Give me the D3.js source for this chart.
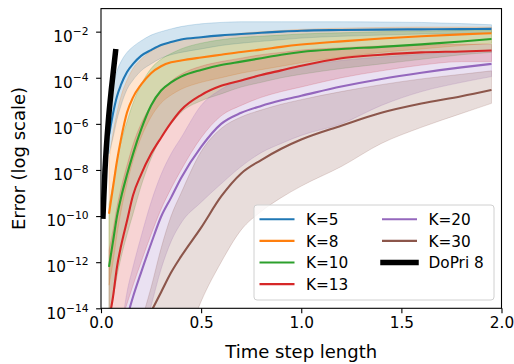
<!DOCTYPE html>
<html>
<head>
<meta charset="utf-8">
<script src="https://cdn.jsdelivr.net/npm/d3@7"></script>
<style>
  body { margin: 0; background: #fff; }
  svg { display: block; font-family: "DejaVu Sans", sans-serif; }
</style>
</head>
<body>
<svg id="chart" width="514" height="364"></svg>
<script>
// time step lengths (shared x grid)
const steps = [0.04, 0.06, 0.08, 0.1, 0.13, 0.16, 0.2, 0.25, 0.3, 0.35, 0.4, 0.5, 0.6, 0.7, 0.8, 0.9, 1.0, 1.2, 1.4, 1.6, 1.8, 1.95];

// errors, as log10 exponents (null = not drawn)
const meanK5 = [-6.5, -5.55, -4.8, -4.3, -3.75, -3.4, -3.05, -2.8, -2.58, -2.45, -2.34, -2.24, -2.16, -2.1, -2.05, -2.0, -1.96, -1.93, -1.91, -1.9, -1.89, -1.88];
const hiK5 = [-5.6, -4.4, -3.7, -3.3, -2.9, -2.65, -2.4, -2.15, -2.0, -1.88, -1.78, -1.66, -1.6, -1.57, -1.57, -1.57, -1.57, -1.57, -1.58, -1.6, -1.65, -1.7];
const loK5 = [-7.3, -6.6, -5.8, -5.2, -4.5, -4.1, -3.7, -3.4, -3.15, -3.0, -2.9, -2.75, -2.6, -2.5, -2.42, -2.35, -2.28, -2.2, -2.15, -2.1, -2.08, -2.05];

const meanK8 = [-9.9, -8.75, -7.6, -6.65, -5.5, -4.85, -4.3, -3.8, -3.5, -3.33, -3.25, -3.12, -3.0, -2.88, -2.78, -2.66, -2.56, -2.42, -2.3, -2.2, -2.12, -2.07];
const hiK8 = [-7.6, -6.4, -5.5, -4.8, -4.1, -3.6, -3.2, -2.85, -2.6, -2.45, -2.35, -2.25, -2.15, -2.07, -2.0, -1.95, -1.9, -1.85, -1.82, -1.8, -1.8, -1.8];
const loK8 = [-13.0, -12.0, -10.8, -9.8, -8.6, -7.6, -6.6, -5.7, -5.1, -4.75, -4.5, -4.2, -4.0, -3.8, -3.65, -3.5, -3.35, -3.1, -2.9, -2.75, -2.6, -2.5];

const meanK10 = [-12.2, -11.1, -10.0, -9.2, -8.2, -7.3, -6.25, -5.2, -4.55, -4.2, -3.95, -3.66, -3.45, -3.3, -3.15, -3.0, -2.88, -2.75, -2.66, -2.55, -2.43, -2.32];
const hiK10 = [-9.5, -8.6, -7.6, -6.8, -5.9, -5.1, -4.3, -3.6, -3.2, -2.95, -2.75, -2.5, -2.35, -2.25, -2.2, -2.15, -2.1, -2.05, -2.0, -1.98, -1.95, -1.95];
const loK10 = [-14.5, -13.6, -12.6, -11.8, -10.8, -9.9, -8.7, -7.5, -6.6, -6.0, -5.5, -5.0, -4.7, -4.4, -4.2, -4.0, -3.85, -3.6, -3.4, -3.2, -3.0, -2.9];

const meanK13 = [-14.5, -13.5, -12.2, -11.3, -10.2, -9.1, -8.2, -7.3, -6.6, -5.95, -5.4, -4.75, -4.35, -4.12, -3.88, -3.68, -3.48, -3.15, -3.0, -2.9, -2.86, -2.82];
const hiK13 = [-11.5, -10.6, -9.6, -8.8, -7.8, -6.9, -6.0, -5.2, -4.6, -4.15, -3.85, -3.5, -3.3, -3.15, -3.0, -2.9, -2.8, -2.7, -2.62, -2.58, -2.55, -2.55];
const loK13 = [-17.0, -16.0, -15.2, -14.6, -13.8, -13.0, -12.0, -10.8, -9.7, -8.8, -8.0, -6.6, -5.65, -5.2, -4.85, -4.6, -4.4, -4.0, -3.7, -3.45, -3.3, -3.3];

const meanK20 = [null, null, null, null, -14.4, -13.5, -12.45, -11.2, -10.03, -9.2, -8.35, -7.0, -6.0, -5.52, -5.22, -4.98, -4.78, -4.38, -4.05, -3.78, -3.55, -3.4];
const hiK20 = [null, null, null, -15.0, -13.3, -12.2, -10.9, -9.4, -8.2, -7.3, -6.6, -5.2, -4.5, -4.1, -3.85, -3.65, -3.5, -3.25, -3.1, -2.98, -2.88, -2.8];
const loK20 = [null, null, null, -18.0, -17.5, -17.0, -15.5, -13.9, -12.3, -11.1, -10.3, -9.4, -8.6, -7.85, -7.25, -6.85, -6.5, -6.0, -5.2, -4.6, -4.2, -3.95];

const meanK30 = [null, null, null, null, null, null, null, -14.15, -13.3, -12.45, -11.75, -10.5, -9.15, -8.15, -7.57, -7.08, -6.68, -6.08, -5.52, -5.12, -4.8, -4.53];
const hiK30 = [null, null, null, null, null, null, -14.6, -13.1, -11.4, -10.0, -9.0, -7.2, -6.2, -5.7, -5.4, -5.15, -4.95, -4.6, -4.3, -4.05, -3.85, -3.7];
const loK30 = [null, null, null, null, null, null, -18.0, -18.0, -18.0, -17.0, -16.0, -13.7, -12.0, -10.6, -9.8, -9.2, -8.7, -7.85, -6.85, -6.15, -5.55, -5.11];

// DoPri 8 reference solver
const dopriSteps = [0.01, 0.02, 0.037, 0.053, 0.0725];
const dopriErr = [-10.0, -8.0, -5.83, -4.39, -2.87];

const labels = ['K=5', 'K=8', 'K=10', 'K=13', 'K=20', 'K=30'];
const colors = ['#1f77b4', '#ff7f0e', '#2ca02c', '#d62728', '#9467bd', '#8c564b'];
const means = [meanK5, meanK8, meanK10, meanK13, meanK20, meanK30];
const highs = [hiK5, hiK8, hiK10, hiK13, hiK20, hiK30];
const lows = [loK5, loK8, loK10, loK13, loK20, loK30];

const yTicks = [-14, -12, -10, -8, -6, -4, -2];
const xTicks = [0, 0.5, 1.0, 1.5, 2.0];

const margin = { top: 8.6, right: 12.5, bottom: 55.7, left: 101 };
const width = 514 - margin.left - margin.right;
const height = 364 - margin.top - margin.bottom;
const tickFont = 15.3;
const titleFont = 18;

const svg = d3.select('#chart');

const x = d3.scaleLinear().domain([0, 2]).range([0, width]);
const y = d3.scaleLog().domain([1e-14, 1e-1]).range([height, 0]);
const pow = (e) => Math.pow(10, e);

const g = svg.append('g').attr('transform', `translate(${margin.left},${margin.top})`);

g.append('clipPath').attr('id', 'clip')
  .append('rect').attr('width', width).attr('height', height);

const plot = g.append('g').attr('clip-path', 'url(#clip)');

// shaded bands
means.forEach((m, i) => {
  const rows = steps.map((t, j) => ({ t, lo: lows[i][j], hi: highs[i][j] }))
    .filter((d) => d.lo !== null && d.hi !== null);
  const area = d3.area()
    .curve(d3.curveMonotoneX)
    .x((d) => x(d.t))
    .y0((d) => y(pow(d.lo)))
    .y1((d) => y(pow(d.hi)));
  plot.append('path')
    .datum(rows)
    .attr('d', area)
    .attr('fill', colors[i])
    .attr('fill-opacity', 0.2)
    .attr('stroke', colors[i])
    .attr('stroke-opacity', 0.2)
    .attr('stroke-width', 1);
});

// mean lines
means.forEach((m, i) => {
  const rows = steps.map((t, j) => ({ t, v: m[j] })).filter((d) => d.v !== null);
  const line = d3.line()
    .curve(d3.curveMonotoneX)
    .x((d) => x(d.t))
    .y((d) => y(pow(d.v)));
  plot.append('path')
    .datum(rows)
    .attr('d', line)
    .attr('fill', 'none')
    .attr('stroke', colors[i])
    .attr('stroke-width', 2.1);
});

// DoPri 8
const dopri = dopriSteps.map((t, j) => ({ t, v: dopriErr[j] }));
plot.append('path')
  .datum(dopri)
  .attr('d', d3.line().curve(d3.curveMonotoneX).x((d) => x(d.t)).y((d) => y(pow(d.v))))
  .attr('fill', 'none')
  .attr('stroke', '#000')
  .attr('stroke-width', 5.5)
  .attr('stroke-linecap', 'square');

// axes
const xAxis = g.append('g')
  .attr('transform', `translate(0,${height})`)
  .call(d3.axisBottom(x).tickValues(xTicks).tickFormat(d3.format('.1f')).tickSize(4.9).tickPadding(4));
xAxis.select('.domain').remove();
xAxis.selectAll('line').attr('stroke', '#000').attr('stroke-width', 1.1);
xAxis.selectAll('text').attr('font-size', tickFont).attr('fill', '#000')
  .attr('font-family', '"DejaVu Sans", sans-serif');

const yAxis = g.append('g')
  .call(d3.axisLeft(y).tickValues(yTicks.map(pow)).tickFormat('').tickSize(4.9));
yAxis.select('.domain').remove();
yAxis.selectAll('line').attr('stroke', '#000').attr('stroke-width', 1.1);

yTicks.forEach((e) => {
  const t = g.append('text')
    .attr('x', -12.5)
    .attr('y', y(pow(e)) + 10.3)
    .attr('text-anchor', 'end')
    .attr('font-size', tickFont)
    .attr('fill', '#000');
  t.append('tspan').text('10');
  t.append('tspan').attr('dy', -7).attr('font-size', 10.7).text(`\u2212${-e}`);
});

// frame
g.append('rect')
  .attr('width', width)
  .attr('height', height)
  .attr('fill', 'none')
  .attr('stroke', '#000')
  .attr('stroke-width', 1.1);

// axis titles
svg.append('text')
  .attr('x', margin.left + width / 2)
  .attr('y', 358)
  .attr('text-anchor', 'middle')
  .attr('font-size', titleFont)
  .attr('fill', '#000')
  .text('Time step length');

svg.append('text')
  .attr('transform', `translate(25,${margin.top + height / 2}) rotate(-90)`)
  .attr('text-anchor', 'middle')
  .attr('font-size', titleFont)
  .attr('fill', '#000')
  .text('Error (log scale)');

// legend
const legend = svg.append('g').attr('transform', 'translate(254,205)');
legend.append('rect')
  .attr('width', 240)
  .attr('height', 95)
  .attr('rx', 3)
  .attr('fill', '#fff')
  .attr('fill-opacity', 0.8)
  .attr('stroke', '#d0d0d0')
  .attr('stroke-width', 1);

const entries = labels.map((l, i) => ({ label: l, color: colors[i], w: 2.1 }))
  .concat([{ label: 'DoPri 8', color: '#000', w: 5.5 }]);
entries.forEach((d, i) => {
  const col = i < 4 ? 0 : 1;
  const row = i < 4 ? i : i - 4;
  const ex = col === 0 ? 5.5 : 128;
  const ey = 14.3 + row * 21.6;
  const thick = d.w > 3;
  legend.append('line')
    .attr('x1', thick ? ex + 1 : ex).attr('x2', thick ? ex + 34 : ex + 35)
    .attr('y1', ey).attr('y2', ey)
    .attr('stroke', d.color)
    .attr('stroke-width', d.w)
    .attr('stroke-linecap', thick ? 'square' : 'butt');
  legend.append('text')
    .attr('x', ex + 46.5)
    .attr('y', ey + 5.6)
    .attr('font-size', tickFont)
    .attr('fill', '#000')
    .text(d.label);
});
</script>
</body>
</html>
